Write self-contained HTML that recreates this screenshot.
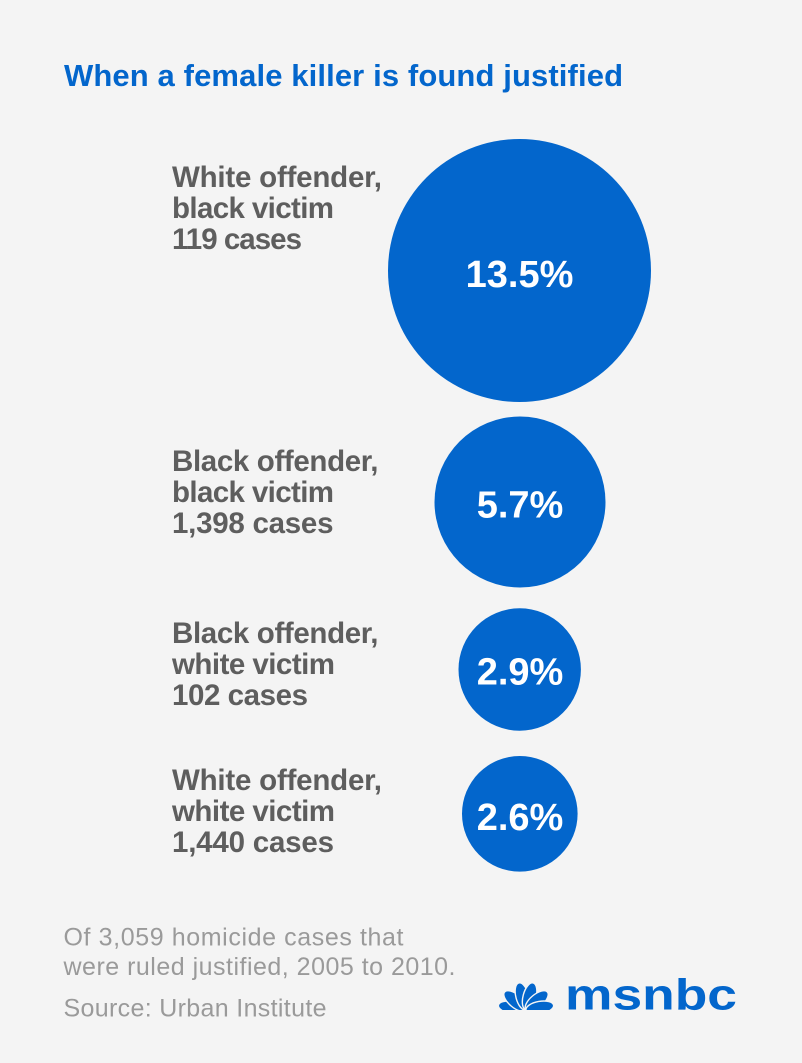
<!DOCTYPE html>
<html>
<head>
<meta charset="utf-8">
<style>
  html,body{margin:0;padding:0;background:#f4f4f4;}
  svg{display:block;}
  .lbl{font-family:"Liberation Sans",Arial,sans-serif;font-weight:bold;font-size:29.5px;fill:#5e5e5e;}
  .pct{font-family:"Liberation Sans",Arial,sans-serif;font-weight:bold;font-size:38px;fill:#ffffff;}
  .foot{font-family:"Liberation Sans",Arial,sans-serif;font-size:25px;fill:#9a9a9a;}
</style>
</head>
<body>
<svg width="802" height="1063" viewBox="0 0 802 1063" xmlns="http://www.w3.org/2000/svg">
  <defs>
    <clipPath id="pc"><rect x="490" y="975" width="75" height="35"/></clipPath>
  </defs>
  <rect width="802" height="1063" fill="#f4f4f4"/>

  <text x="64" y="86" font-family="Liberation Sans, Arial, sans-serif" font-weight="bold" font-size="31" fill="#0366cc" textLength="559" lengthAdjust="spacing">When a female killer is found justified</text>

  <!-- circles -->
  <circle cx="519.5" cy="270.5" r="131.5" fill="#0366cc"/>
  <circle cx="520" cy="502" r="85.5" fill="#0366cc"/>
  <circle cx="519.7" cy="669.5" r="61.2" fill="#0366cc"/>
  <circle cx="519.8" cy="813.8" r="57.8" fill="#0366cc"/>

  <text class="pct" x="519.5" y="287" text-anchor="middle">13.5%</text>
  <text class="pct" x="520" y="517.5" text-anchor="middle">5.7%</text>
  <text class="pct" x="520" y="684.5" text-anchor="middle">2.9%</text>
  <text class="pct" x="520" y="830" text-anchor="middle">2.6%</text>

  <!-- labels -->
  <text class="lbl" x="172" y="187" textLength="210" lengthAdjust="spacing">White offender,</text>
  <text class="lbl" x="172" y="218" textLength="162" lengthAdjust="spacing">black victim</text>
  <text class="lbl" x="172" y="249" textLength="130" lengthAdjust="spacing">119 cases</text>

  <text class="lbl" x="172" y="471" textLength="206.5" lengthAdjust="spacing">Black offender,</text>
  <text class="lbl" x="172" y="502" textLength="162" lengthAdjust="spacing">black victim</text>
  <text class="lbl" x="172" y="533" textLength="161.5" lengthAdjust="spacing">1,398 cases</text>

  <text class="lbl" x="172" y="643" textLength="206.5" lengthAdjust="spacing">Black offender,</text>
  <text class="lbl" x="172" y="674" textLength="163" lengthAdjust="spacing">white victim</text>
  <text class="lbl" x="172" y="705" textLength="136" lengthAdjust="spacing">102 cases</text>

  <text class="lbl" x="172" y="790" textLength="210" lengthAdjust="spacing">White offender,</text>
  <text class="lbl" x="172" y="821" textLength="163" lengthAdjust="spacing">white victim</text>
  <text class="lbl" x="172" y="852" textLength="162" lengthAdjust="spacing">1,440 cases</text>

  <!-- footer -->
  <text class="foot" x="63.5" y="945.5" textLength="340" lengthAdjust="spacing">Of 3,059 homicide cases that</text>
  <text class="foot" x="63.5" y="975" textLength="392" lengthAdjust="spacing">were ruled justified, 2005 to 2010.</text>
  <text class="foot" x="63.5" y="1016.5" textLength="263" lengthAdjust="spacing">Source: Urban Institute</text>

  <!-- msnbc logo peacock -->
  <g fill="#0366cc" stroke="#f4f4f4" stroke-width="1.4" clip-path="url(#pc)">
    <ellipse cx="512.2" cy="1007.6" rx="14" ry="6.2" transform="rotate(10 512.2 1007.6)"/>
    <ellipse cx="515.3" cy="1001" rx="14" ry="6.5" transform="rotate(40 515.3 1001)"/>
    <ellipse cx="522.4" cy="996.5" rx="14" ry="6.5" transform="rotate(75 522.4 996.5)"/>
    <ellipse cx="529.6" cy="996.5" rx="14" ry="6.5" transform="rotate(105 529.6 996.5)"/>
    <ellipse cx="536.7" cy="1001" rx="14" ry="6.5" transform="rotate(140 536.7 1001)"/>
    <ellipse cx="539.8" cy="1007.6" rx="14" ry="6.2" transform="rotate(170 539.8 1007.6)"/>
  </g>
  <text x="565" y="1009.5" font-family="Liberation Sans, Arial, sans-serif" font-weight="bold" font-size="44" fill="#0366cc" textLength="172" lengthAdjust="spacingAndGlyphs">msnbc</text>
</svg>
</body>
</html>
